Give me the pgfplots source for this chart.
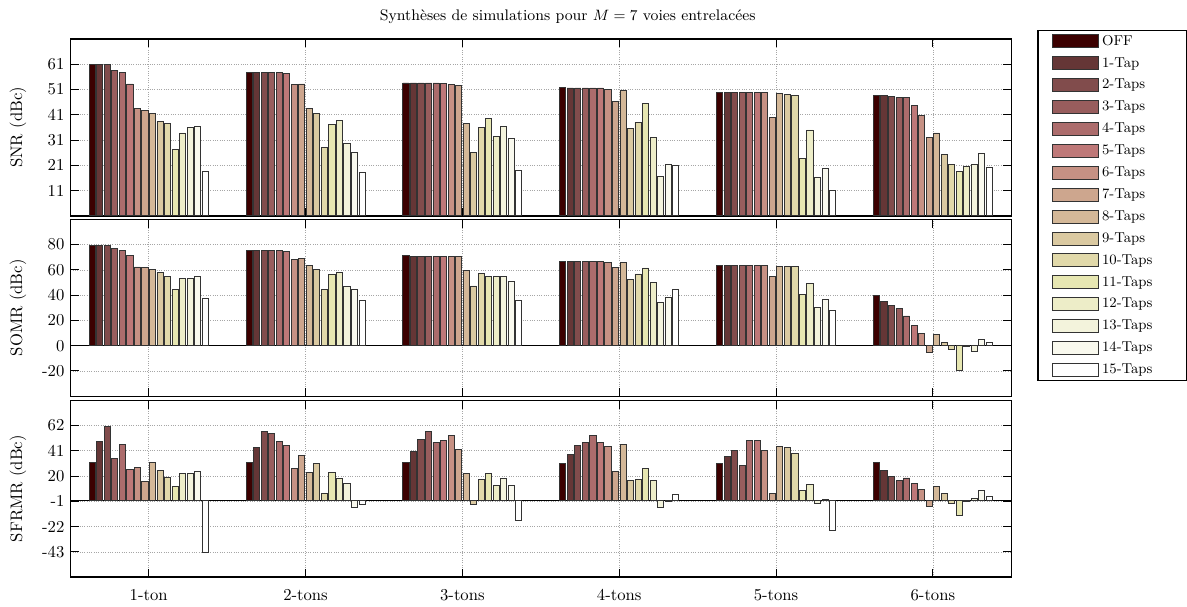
\documentclass[border=0pt]{standalone}
\usepackage{pgfplots}
\pgfplotsset{compat=1.18}
\usepackage{pgfplotstable}

\definecolor{c0}{RGB}{60,0,0}
\definecolor{c1}{RGB}{101,54,54}
\definecolor{c2}{RGB}{129,76,76}
\definecolor{c3}{RGB}{152,93,93}
\definecolor{c4}{RGB}{172,108,108}
\definecolor{c5}{RGB}{190,120,120}
\definecolor{c6}{RGB}{198,145,132}
\definecolor{c7}{RGB}{205,166,142}
\definecolor{c8}{RGB}{212,184,152}
\definecolor{c9}{RGB}{218,201,161}
\definecolor{c10}{RGB}{225,217,170}
\definecolor{c11}{RGB}{231,231,178}
\definecolor{c12}{RGB}{237,237,200}
\definecolor{c13}{RGB}{243,243,220}
\definecolor{c14}{RGB}{249,249,238}
\definecolor{c15}{RGB}{255,255,255}

\pgfplotstableread{
g t0 t1 t2 t3 t4 t5 t6 t7 t8 t9 t10 t11 t12 t13 t14 t15
1 61.0 61.0 61.0 58.5 57.7 53.2 43.6 42.7 41.5 38.3 37.6 27.4 33.8 35.8 36.2 18.5
2 57.8 57.8 57.8 57.8 57.8 57.4 53.1 53.2 43.5 41.6 28.0 37.3 38.7 29.6 26.2 18.0
3 53.6 53.6 53.6 53.6 53.6 53.3 53.1 52.6 37.5 26.2 35.8 39.5 32.4 36.2 31.6 18.8
4 51.7 51.6 51.6 51.6 51.6 51.6 50.9 46.3 50.8 35.6 38.1 45.4 32.2 16.6 21.5 21.1
5 49.7 49.7 49.7 49.7 49.7 49.7 49.7 40.1 49.5 49.1 48.8 23.8 35.0 16.4 19.8 11.1
6 48.6 48.6 48.3 47.9 47.8 44.6 40.8 32.2 33.8 25.3 21.5 18.7 20.7 21.3 25.7 20.0
}\snr

\pgfplotstableread{
g t0 t1 t2 t3 t4 t5 t6 t7 t8 t9 t10 t11 t12 t13 t14 t15
1 79.5 79.5 79.5 76.6 75.6 71.2 62.3 61.8 60.3 57.7 55.1 44.2 53.5 53.5 54.5 37.4
2 75.3 75.1 75.1 75.1 75.1 74.3 68.1 69.4 63.6 60.0 44.2 56.6 57.9 47.0 44.4 36.1
3 71.2 70.9 70.9 70.9 70.9 70.9 70.9 70.9 59.5 47.3 56.9 55.1 55.1 54.5 51.2 35.8
4 66.9 66.9 66.9 66.9 66.9 66.9 65.9 61.8 65.6 52.7 56.8 61.5 50.4 34.4 38.2 44.2
5 63.6 63.6 63.6 63.6 63.6 63.6 63.6 54.5 63.0 62.8 62.5 40.6 49.6 30.5 36.7 27.9
6 39.8 35.1 31.5 29.5 23.5 15.8 9.8 -5.7 9.0 2.6 -2.6 -19.4 -0.8 -4.7 4.7 2.6
}\somr

\pgfplotstableread{
g t0 t1 t2 t3 t4 t5 t6 t7 t8 t9 t10 t11 t12 t13 t14 t15
1 31.5 48.5 61.1 34.5 46.0 25.8 26.9 15.4 31.5 25.0 18.7 11.6 22.5 22.5 23.9 -43.4
2 31.3 43.8 56.7 55.6 49.0 45.2 26.6 37.3 23.1 30.4 5.6 23.3 18.1 13.8 -5.9 -3.7
3 31.0 40.8 50.7 57.0 48.2 49.9 53.4 42.2 22.5 -3.5 16.8 22.5 12.4 17.9 12.1 -17.1
4 30.7 38.1 45.5 48.2 53.7 47.7 44.4 23.9 46.0 16.0 17.3 26.1 16.2 -6.2 -1.3 4.5
5 30.2 36.5 41.1 28.8 49.9 49.3 41.1 5.8 44.9 44.1 38.9 8.0 13.2 -2.9 0.9 -25.1
6 31.0 24.4 19.8 16.2 18.4 13.5 8.8 -5.6 11.3 5.6 -2.9 -12.8 -0.7 1.7 8.3 3.4
}\sfrmr

\newcommand\bars[1]{%
\addplot[b=c0,bar shift=-0.360] table[x=g,y=t0]{#1};
\addplot[b=c1,bar shift=-0.312] table[x=g,y=t1]{#1};
\addplot[b=c2,bar shift=-0.264] table[x=g,y=t2]{#1};
\addplot[b=c3,bar shift=-0.216] table[x=g,y=t3]{#1};
\addplot[b=c4,bar shift=-0.168] table[x=g,y=t4]{#1};
\addplot[b=c5,bar shift=-0.120] table[x=g,y=t5]{#1};
\addplot[b=c6,bar shift=-0.072] table[x=g,y=t6]{#1};
\addplot[b=c7,bar shift=-0.024] table[x=g,y=t7]{#1};
\addplot[b=c8,bar shift=0.024] table[x=g,y=t8]{#1};
\addplot[b=c9,bar shift=0.072] table[x=g,y=t9]{#1};
\addplot[b=c10,bar shift=0.120] table[x=g,y=t10]{#1};
\addplot[b=c11,bar shift=0.168] table[x=g,y=t11]{#1};
\addplot[b=c12,bar shift=0.216] table[x=g,y=t12]{#1};
\addplot[b=c13,bar shift=0.264] table[x=g,y=t13]{#1};
\addplot[b=c14,bar shift=0.312] table[x=g,y=t14]{#1};
\addplot[b=c15,bar shift=0.360] table[x=g,y=t15]{#1};
}

\newcommand\legtxt[1]{\makebox[40pt][l]{#1}}

\pgfplotsset{
  b/.style={draw=black!80, line width=0.5pt, fill=#1},
  /pgfplots/ybar legend/.style={/pgfplots/legend image code/.code={\draw[##1] (0pt,-3.9pt) rectangle (27.4pt,3.9pt);}},
  myax/.style={
    scale only axis, width=565pt, height=106.2pt,
    anchor=north west,
    xmin=0.5, xmax=6.5, xtick={1,2,3,4,5,6},
    ybar, bar width=0.039,
    grid=major, major grid style={densely dotted, gray!70, line width=0.4pt},
    axis line style={line width=0.8pt},
    tick align=inside, major tick length=5pt, tick style={black, line width=0.6pt},
    ylabel style={at={(axis description cs:-0.0555,0.5)}, anchor=center},
  },
  base0/.style={extra y ticks={0}, extra y tick labels={},
    extra y tick style={grid=major, major grid style={black, solid, line width=0.6pt}, major tick length=0pt}},
}

\begin{document}
\begin{tikzpicture}
\begin{axis}[myax, at={(42.2pt,-23.4pt)},
  ymin=1, ymax=71, ytick={11,21,31,41,51,61}, yticklabels={11,21,31,41,51,61},
  xticklabels={},
  ylabel={SNR (dBc)},
  title={Synthèses de simulations pour $M=7$ voies entrelacées},
  title style={at={(axis description cs:0.5285,1)}, anchor=center, yshift=7.2pt, font=\fontsize{9.2}{11}\selectfont},
  legend style={at={(axis description cs:1.0276,1.051)}, anchor=north west, draw=black, line width=0.8pt,
    inner xsep=8.6pt, inner ysep=1.2pt, row sep=2.65pt, font=\fontsize{8.6}{10}\selectfont,
    nodes={inner xsep=2pt, inner ysep=1.5pt, text depth=0.15em, text height=6pt}, cells={anchor=west}},
  legend cell align=left,
  legend entries={\legtxt{OFF},\legtxt{1-Tap},\legtxt{2-Taps},\legtxt{3-Taps},\legtxt{4-Taps},\legtxt{5-Taps},\legtxt{6-Taps},\legtxt{7-Taps},\legtxt{8-Taps},\legtxt{9-Taps},\legtxt{10-Taps},\legtxt{11-Taps},\legtxt{12-Taps},\legtxt{13-Taps},\legtxt{14-Taps},\legtxt{15-Taps}},
]
\bars{\snr}
\end{axis}

\begin{axis}[myax, base0, at={(42.2pt,-131.7pt)},
  ymin=-40, ymax=100, ytick={-20,0,20,40,60,80}, yticklabels={-20,0,20,40,60,80},
  xticklabels={},
  ylabel={SOMR (dBc)},
]
\bars{\somr}
\end{axis}

\begin{axis}[myax, base0, at={(42.2pt,-240.3pt)},
  ymin=-64, ymax=83, ytick={-43,-22,-1,20,41,62}, yticklabels={-43,-22,-1,20,41,62},
  xticklabels={1-ton,2-tons,3-tons,4-tons,5-tons,6-tons},
  xticklabel style={anchor=center, yshift=-10.6pt},
  ylabel={SFRMR (dBc)},
]
\bars{\sfrmr}
\end{axis}
\path (0pt,0pt) rectangle (712.2pt,-363pt);
\end{tikzpicture}
\end{document}
